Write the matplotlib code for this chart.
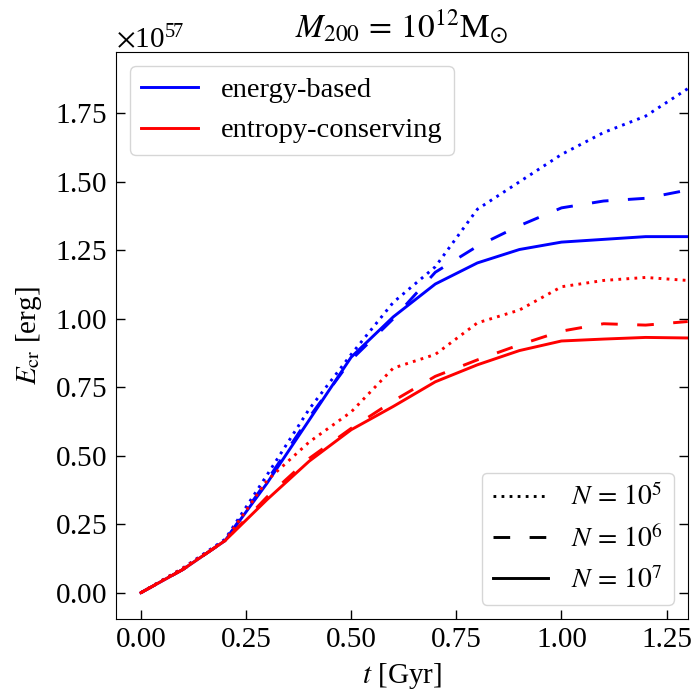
import matplotlib
matplotlib.use("Agg")
import matplotlib.pyplot as plt
from matplotlib.ticker import ScalarFormatter
from matplotlib.lines import Line2D
import numpy as np

# time [Gyr]
t = [0.0, 0.1, 0.2, 0.3, 0.4, 0.5, 0.6, 0.7, 0.8, 0.9, 1.0, 1.1, 1.2, 1.3]
# E_cr in units of 1e57 erg
energy_N1e5 = [0, 0.09, 0.195, 0.43, 0.67, 0.87, 1.06, 1.19, 1.40, 1.50, 1.60, 1.68, 1.74, 1.84]
energy_N1e6 = [0, 0.085, 0.19, 0.41, 0.64, 0.85, 1.00, 1.17, 1.265, 1.34, 1.405, 1.43, 1.44, 1.47]
energy_N1e7 = [0, 0.085, 0.19, 0.40, 0.63, 0.86, 1.007, 1.127, 1.204, 1.253, 1.28, 1.29, 1.30, 1.30]
entropy_N1e5 = [0, 0.09, 0.19, 0.41, 0.55, 0.66, 0.82, 0.87, 0.985, 1.032, 1.117, 1.14, 1.151, 1.14]
entropy_N1e6 = [0, 0.085, 0.19, 0.35, 0.49, 0.60, 0.70, 0.79, 0.85, 0.905, 0.955, 0.982, 0.977, 0.99]
entropy_N1e7 = [0, 0.085, 0.19, 0.34, 0.48, 0.595, 0.68, 0.77, 0.832, 0.884, 0.919, 0.926, 0.932, 0.93]
unit = 1e57

method_labels = ["energy-based", "entropy-conserving"]
N_labels = [r"$N\,=\,10^5$", r"$N\,=\,10^6$", r"$N\,=\,10^7$"]

plt.rcParams['font.family'] = ['Liberation Serif', 'DejaVu Serif']
plt.rcParams['mathtext.fontset'] = 'stix'
plt.rcParams['lines.scale_dashes'] = False

fig = plt.figure(figsize=(6.96, 6.9), dpi=100)
ax = fig.add_axes([0.1662, 0.1033, 0.8218, 0.8217])

dotted = (0, (2.0, 3.8))
dashed = (0, (12, 14))
lw = 2.1

styles = [dotted, dashed, '-']
for data, ls in zip([energy_N1e5, energy_N1e6, energy_N1e7], styles):
    ax.plot(t, np.array(data) * unit, color='blue', lw=lw, linestyle=ls)
for data, ls in zip([entropy_N1e5, entropy_N1e6, entropy_N1e7], styles):
    ax.plot(t, np.array(data) * unit, color='red', lw=lw, linestyle=ls)

ax.set_xlim(-0.06, 1.3)
ax.set_ylim(-0.095 * unit, 1.975 * unit)

fmt = ScalarFormatter(useMathText=True)
ax.yaxis.set_major_formatter(fmt)
ax.set_yticks(np.arange(0, 1.76, 0.25) * unit)
ax.set_xticks([0.0, 0.25, 0.5, 0.75, 1.0, 1.25])
ax.xaxis.set_major_formatter(matplotlib.ticker.FormatStrFormatter('%.2f'))

ax.tick_params(direction='in', length=6.5, width=1, labelsize=21, right=True, top=False, pad=6)
ax.yaxis.get_offset_text().set_fontsize(21)

ax.set_xlabel(r"$t$ [Gyr]", fontsize=21, labelpad=6)
ax.set_ylabel(r"$E_{\rm cr}$ [erg]", fontsize=21, labelpad=8)
ax.set_title(r"$M_{200}\,=\,10^{12}\mathrm{M}_{\odot}$", fontsize=24, pad=10)

h1 = [Line2D([], [], color='blue', lw=lw), Line2D([], [], color='red', lw=lw)]
leg1 = ax.legend(h1, method_labels, loc='upper left', fontsize=20.5, framealpha=0.8)
ax.add_artist(leg1)
h2 = [Line2D([], [], color='black', lw=lw, linestyle=s) for s in styles]
ax.legend(h2, N_labels, loc='lower right', fontsize=20, framealpha=0.8)

fig.savefig("out.png", dpi=100)
